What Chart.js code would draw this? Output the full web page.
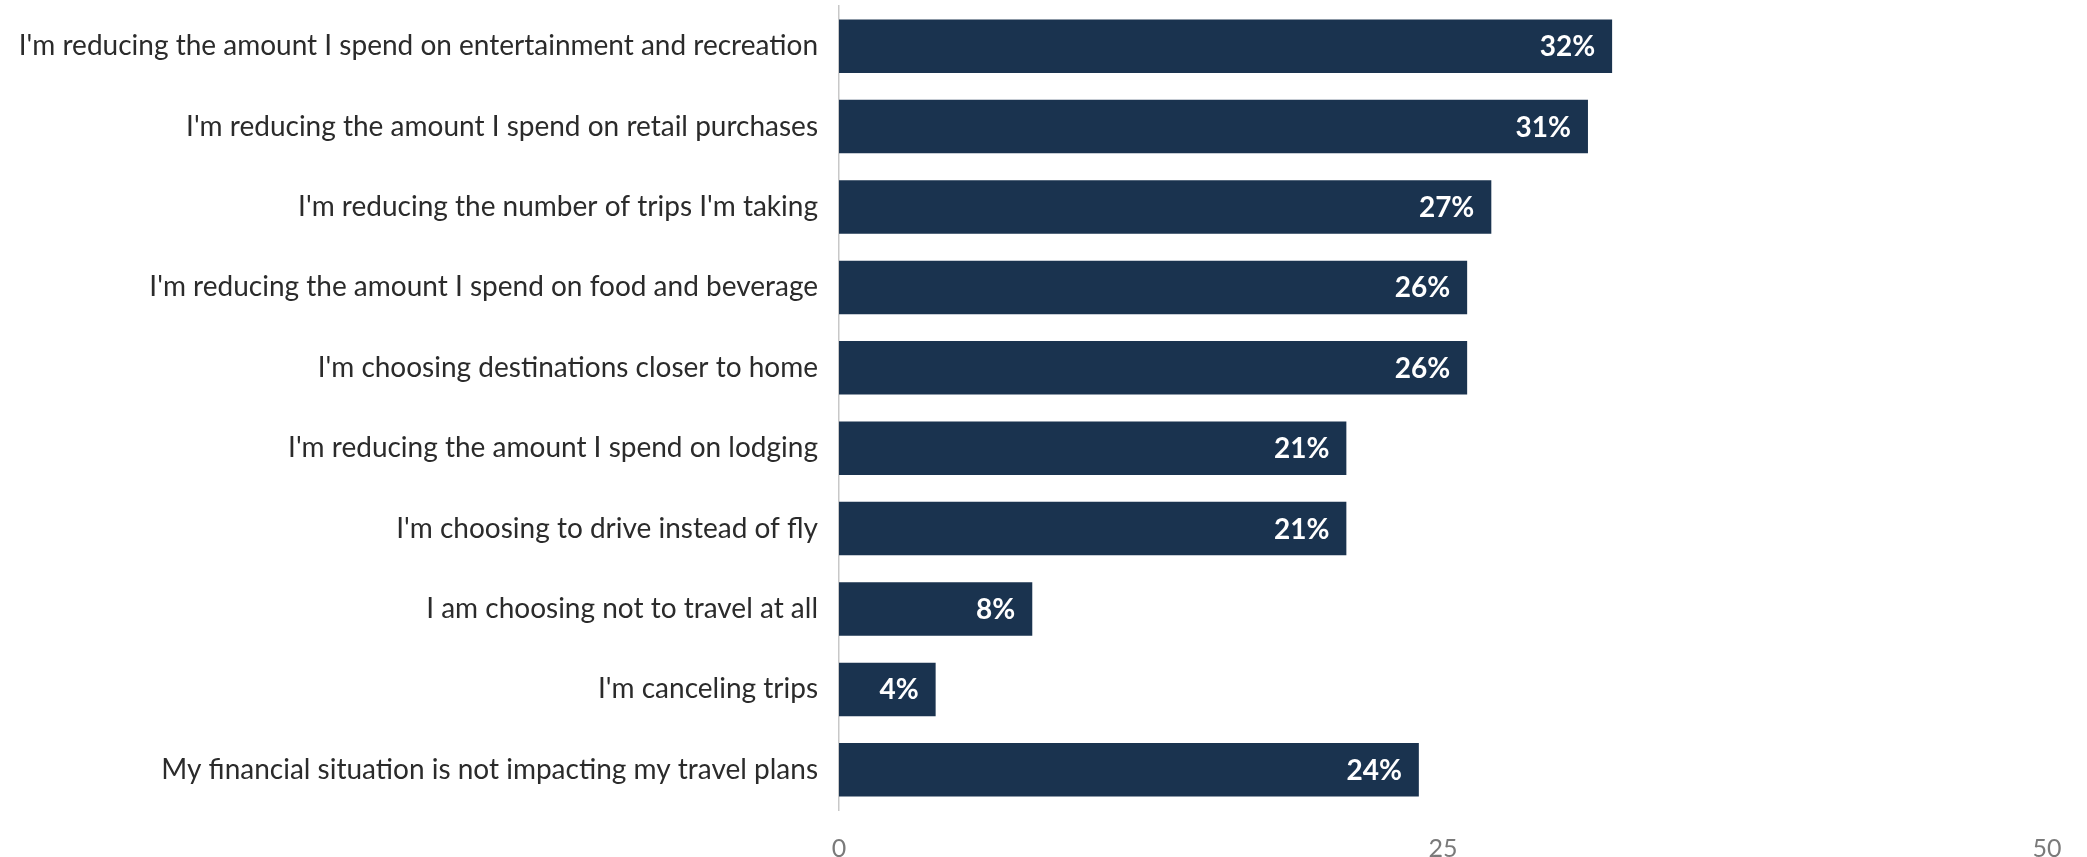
<!DOCTYPE html>
<html>
<head>
<meta charset="utf-8">
<title>Travel spending changes</title>
<script src="https://cdn.jsdelivr.net/npm/chart.js@4/dist/chart.umd.min.js"></script>
<style>
  html, body { margin: 0; padding: 0; background: #fff; }
  #wrap { width: 2087px; height: 857px; position: relative; }
</style>
</head>
<body>
<div id="wrap"><canvas id="myChart"></canvas></div>
<script>
(() => {
  'use strict'

  const answers = [
    "I'm reducing the amount I spend on entertainment and recreation",
    "I'm reducing the amount I spend on retail purchases",
    "I'm reducing the number of trips I'm taking",
    "I'm reducing the amount I spend on food and beverage",
    "I'm choosing destinations closer to home",
    "I'm reducing the amount I spend on lodging",
    "I'm choosing to drive instead of fly",
    'I am choosing not to travel at all',
    "I'm canceling trips",
    'My financial situation is not impacting my travel plans'
  ]
  const shares = [32, 31, 27, 26, 26, 21, 21, 8, 4, 24]
  const axisTicks = [0, 25, 50]

  // white percentage inside the end of each bar
  const valueLabels = {
    id: 'valueLabels',
    afterDatasetsDraw (chart) {
      const { ctx } = chart
      const meta = chart.getDatasetMeta(0)
      ctx.save()
      ctx.font = 'bold 28px Lato'
      ctx.fillStyle = '#ffffff'
      ctx.textAlign = 'right'
      ctx.textBaseline = 'middle'
      meta.data.forEach((bar, i) => {
        ctx.fillText(shares[i] + '%', bar.x - 17, bar.y + 1)
      })
      ctx.restore()
    }
  }

  const ctx = document.getElementById('myChart')
  // eslint-disable-next-line no-unused-vars
  const myChart = new Chart(ctx, {
    type: 'bar',
    data: {
      labels: answers,
      datasets: [{
        data: shares,
        backgroundColor: '#1a334f',
        borderWidth: 0,
        categoryPercentage: 1,
        barPercentage: 0.665
      }]
    },
    plugins: [valueLabels],
    options: {
      indexAxis: 'y',
      responsive: true,
      maintainAspectRatio: false,
      animation: false,
      layout: { padding: { top: 6, right: 40, left: 0, bottom: 0 } },
      scales: {
        x: {
          min: 0,
          max: 50,
          afterBuildTicks (scale) {
            scale.ticks = axisTicks.map(v => ({ value: v }))
          },
          afterFit (scale) { scale.height = 47 },
          grid: { display: false, drawTicks: false },
          border: { display: false },
          ticks: {
            padding: 24,
            color: '#7a7a7a',
            font: { family: 'Lato', size: 25 }
          }
        },
        y: {
          afterFit (scale) {
            scale.width = 839
            // labels sit in the middle of each band, no extra room needed above/below
            scale.paddingTop = 0
            scale.paddingBottom = 0
          },
          grid: { display: false, drawTicks: false },
          border: { display: true, color: '#c8c8c8', width: 1.5 },
          ticks: {
            padding: 21,
            color: '#2b2b2b',
            font: { family: 'Lato', size: 28 }
          }
        }
      },
      plugins: {
        legend: { display: false },
        tooltip: { enabled: false }
      }
    }
  })
})()
</script>
</body>
</html>
